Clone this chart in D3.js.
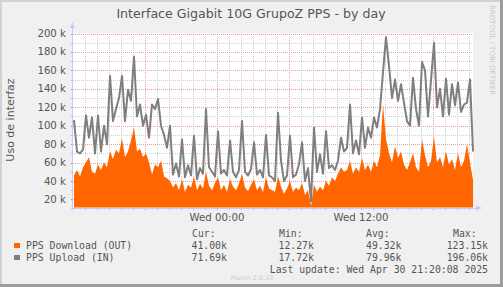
<!DOCTYPE html>
<meta charset="utf-8">
<style>
  body { margin: 0; background: #f0f0f0; }
  svg { display: block; }
</style>
<body>
<div id="chart"></div>
<script src="https://cdn.jsdelivr.net/npm/d3@7"></script>
<script>
// values in thousands of packets/s, one point every 15 minutes
const download = [46,52,45,55,60,66,50,48,58,52,60,55,72,64,74,70,86,66,72,84,
  98,72,75,66,70,60,47,58,55,62,45,43,40,33,38,30,42,28,36,33,
  45,30,37,32,50,35,30,38,44,30,36,28,42,34,30,37,48,33,29,36,
  42,30,35,28,44,32,30,28,45,34,26,32,40,28,33,30,38,25,30,13,
  36,28,34,30,40,35,44,40,48,55,50,52,62,48,55,50,65,52,58,50,
  62,55,68,123,85,70,60,78,65,72,58,52,60,70,55,50,85,68,55,62,
  88,60,66,55,72,58,64,52,70,55,62,80,60,41];
const upload = [106,72,70,74,111,87,109,70,111,72,100,80,154,105,118,130,154,105,139,127,
  175,110,123,100,112,87,123,118,129,100,90,76,100,47,59,45,85,44,57,46,
  89,42,54,48,118,55,50,45,94,48,52,46,84,50,44,52,105,50,46,53,
  82,47,52,44,90,46,44,40,114,62,40,46,89,44,47,58,82,40,54,18,
  98,50,69,48,94,54,57,52,62,87,72,76,123,70,84,69,109,76,98,87,
  109,98,118,158,196,165,130,150,127,145,125,105,100,152,118,100,169,160,110,149,
  190,120,140,110,151,112,145,122,147,115,123,125,150,72];

const seriesNames = ["PPS Download (OUT)", "PPS Upload (IN)"];
const seriesColors = ["#ff6600", "#7f7f7f"];
const statHeads = ["Cur:", "Min:", "Avg:", "Max:"];
const downloadStats = ["41.00k", "12.27k", "49.32k", "123.15k"];
const uploadStats = ["71.69k", "17.72k", "79.96k", "196.06k"];
const yTicks = [20, 40, 60, 80, 100, 120, 140, 160, 180, 200];
const lastUpdate = new Date(2025, 3, 30, 21, 20, 8);
const stepMin = 15;

const width = 503, height = 287;
const pLeft = 73, pRight = 473, pTop = 33.5, pBottom = 207.5;

const end = new Date(2025, 3, 30, 21, 20);
const start = new Date(end.getTime() - 400 * 5 * 60000);
const times = download.map((d, i) => new Date(end.getTime() - (download.length - 1 - i) * stepMin * 60000));

const x = d3.scaleTime().domain([start, end]).range([pLeft, pRight]);
const y = d3.scaleLinear().domain([11.3, 200]).range([pBottom, pTop]);

const svg = d3.select("#chart").append("svg")
  .attr("width", width).attr("height", height)
  .style("font-family", "'DejaVu Sans', sans-serif");

svg.append("rect").attr("width", width).attr("height", height).attr("fill", "#f0f0f0");
// frame
svg.append("path").attr("d", `M1,${height} V1 H${width}`).attr("fill", "none").attr("stroke", "#d2d2d2").attr("stroke-width", 2);
svg.append("path").attr("d", `M0,${height - 1.5} H${width - 1.5} V0`).attr("fill", "none").attr("stroke", "#9c9c9c").attr("stroke-width", 3);

svg.append("rect").attr("x", pLeft).attr("y", pTop).attr("width", pRight - pLeft).attr("height", pBottom - pTop).attr("fill", "#ffffff");

// grid
const g = svg.append("g").attr("shape-rendering", "crispEdges");
const hours = d3.timeHour.every(1).range(new Date(+start + 1), end);
hours.forEach(t => {
  const major = t.getHours() % 6 === 0;
  const xx = Math.round(x(t)) + 0.5;
  g.append("line").attr("x1", xx).attr("x2", xx).attr("y1", pTop).attr("y2", pBottom)
    .attr("stroke", major ? "#e6a0a0" : "#cfcfcf").attr("stroke-dasharray", "1,1");
  g.append("line").attr("x1", xx).attr("x2", xx).attr("y1", pBottom).attr("y2", pBottom + 2)
    .attr("stroke", major ? "#e08080" : "#bbbbbb");
});
d3.range(20, 201, 10).forEach(v => {
  const major = v % 20 === 0;
  const yy = Math.round(y(v)) + 0.5;
  g.append("line").attr("x1", pLeft).attr("x2", pRight).attr("y1", yy).attr("y2", yy)
    .attr("stroke", major ? "#e6a0a0" : "#cfcfcf").attr("stroke-dasharray", "1,1");
  g.append("line").attr("x1", pLeft - 2).attr("x2", pLeft).attr("y1", yy).attr("y2", yy)
    .attr("stroke", major ? "#e08080" : "#bbbbbb");
});

// series
const area = d3.area().x((d, i) => x(times[i])).y0(pBottom).y1(d => y(d));
svg.append("path").datum(download).attr("d", area).attr("fill", seriesColors[0]);
const line = d3.line().x((d, i) => x(times[i])).y(d => y(d));
svg.append("path").datum(upload).attr("d", line).attr("fill", "none")
  .attr("stroke", seriesColors[1]).attr("stroke-width", 2).attr("stroke-linejoin", "round");

// axes
const ax = svg.append("g").attr("shape-rendering", "crispEdges");
ax.append("line").attr("x1", pLeft - 0.5).attr("x2", pLeft - 0.5).attr("y1", pBottom + 2).attr("y2", 27).attr("stroke", "#c8c8ff");
ax.append("line").attr("x1", pLeft - 2).attr("x2", 477).attr("y1", pBottom + 0.5).attr("y2", pBottom + 0.5).attr("stroke", "#c8c8ff");
svg.append("path").attr("d", `M${pLeft - 3},28 L${pLeft - 0.5},22 L${pLeft + 2},28 Z`).attr("fill", "#c8c8ff");
svg.append("path").attr("d", `M476,${pBottom - 2} L482,${pBottom + 0.5} L476,${pBottom + 3} Z`).attr("fill", "#c8c8ff");

// y labels
svg.selectAll(".ylab").data(yTicks).enter().append("text")
  .attr("x", 66).attr("y", d => y(d) + 3.5).attr("text-anchor", "end")
  .attr("font-size", 10.2).attr("fill", "#555").text(d => d + " k");

// x labels
const fmt = d3.timeFormat("%a %H:%M");
svg.selectAll(".xlab").data(d3.timeHour.every(12).range(new Date(+start + 1), end)).enter().append("text")
  .attr("x", d => x(d)).attr("y", 220.5).attr("text-anchor", "middle")
  .attr("font-size", 10.2).attr("fill", "#555").text(fmt);

// titles
svg.append("text").attr("x", 251).attr("y", 18).attr("text-anchor", "middle")
  .attr("font-size", 12.6).attr("fill", "#555").text("Interface Gigabit 10G GrupoZ PPS - by day");
svg.append("text").attr("transform", "translate(14,120) rotate(-90)").attr("text-anchor", "middle")
  .attr("font-size", 11).attr("fill", "#555").text("Uso de interfaz");
svg.append("text").attr("transform", "translate(490,5) rotate(90)")
  .attr("font-size", 7).attr("fill", "#c8c8c8").text("RRDTOOL / TOBI OETIKER");

// legend
const mono = "'DejaVu Sans Mono', monospace";
const colX = [191.5, 278.5, 366, 446.7];
const headX = [192, 279, 366, 453];
statHeads.forEach((h, i) => {
  svg.append("text").attr("x", headX[i]).attr("y", 237).attr("font-family", mono)
    .attr("font-size", 9.8).attr("fill", "#555").text(h);
});
[downloadStats, uploadStats].forEach((stats, r) => {
  const yy = 249 + r * 12;
  svg.append("rect").attr("x", 14).attr("y", yy - 6).attr("width", 6).attr("height", 5).attr("fill", seriesColors[r]);
  svg.append("text").attr("x", 26).attr("y", yy).attr("font-family", mono)
    .attr("font-size", 9.8).attr("fill", "#555").text(seriesNames[r]);
  stats.forEach((s, i) => {
    svg.append("text").attr("x", colX[i]).attr("y", yy).attr("font-family", mono)
      .attr("font-size", 9.8).attr("fill", "#555").text(s);
  });
});
svg.append("text").attr("x", 488).attr("y", 273).attr("text-anchor", "end").attr("font-family", mono)
  .attr("font-size", 9.8).attr("fill", "#555")
  .text("Last update: " + d3.timeFormat("%a %b %d %H:%M:%S %Y")(lastUpdate));
svg.append("text").attr("x", 252).attr("y", 279.5).attr("text-anchor", "middle")
  .attr("font-size", 6.5).attr("fill", "#cccccc").text("Munin 2.0.33");
</script>
</body>
